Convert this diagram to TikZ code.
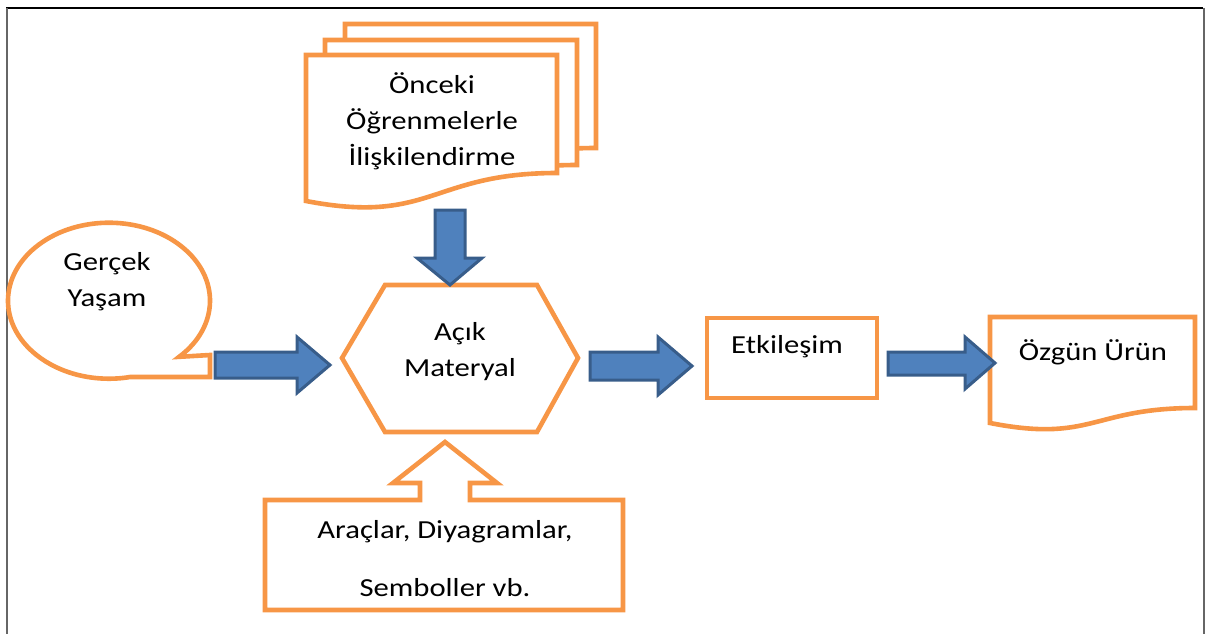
\documentclass[tikz,border=0pt]{standalone}
\usepackage{fontspec}
\setmainfont{Carlito}[FakeStretch=1.18]
\definecolor{orng}{HTML}{F79646}
\definecolor{bfill}{HTML}{4F81BD}
\definecolor{bline}{HTML}{385D8A}
\begin{document}
\begin{tikzpicture}[x=1pt,y=-1pt,
  shp/.style={draw=orng,line width=4.6pt,fill=white},
  barrow/.style={draw=bline,line width=3pt,fill=bfill},
  lbl/.style={align=center,inner sep=0pt,font=\fontsize{26}{36}\selectfont}]
\useasboundingbox (0,0) rectangle (1205,634);
% frame
\draw[black,line width=1.6pt] (6,8) -- (1203,8);
\draw[gray!80!black,line width=2pt] (7,8) -- (7,634);
\draw[gray!80!black,line width=2pt] (1204,8) -- (1204,634);
% stacked documents
\draw[shp] (345,24) -- (596,24) -- (596,148) .. controls (470,148) and (470,198) .. (345,175) -- cycle;
\draw[shp] (325,40) -- (577,40) -- (577,165) .. controls (450,165) and (450,215) .. (325,192) -- cycle;
\draw[shp] (306,55) -- (557,55) -- (557,173) .. controls (431,173) and (431,225) .. (306,201) -- cycle;
\node[lbl] (onceki) at (432,121) {Önceki\\Öğrenmelerle\\İlişkilendirme};
% speech bubble
\draw[shp] (109,300) ++(46:101 and 79) arc[start angle=46,end angle=-282,x radius=101,y radius=78] -- (210,377) -- (210,355) -- cycle;
\node[lbl] (gercek) at (107,282) {Gerçek\\Yaşam};
% hexagon
\draw[shp] (385,285) -- (537,285) -- (578,358) -- (537,432) -- (385,432) -- (342,358) -- cycle;
\node[lbl] (acik) at (460,352) {Açık\\Materyal};
% up-arrow callout
\draw[shp] (265,500) -- (420,500) -- (420,483) -- (393,483) -- (445,442) -- (497,483) -- (470,483) -- (470,500) -- (623,500) -- (623,610) -- (265,610) -- cycle;
\node[lbl] (arac) at (445,559) {Araçlar, Diyagramlar,\\[22pt]Semboller vb.};
% Etkilesim box
\draw[shp] (707,318) rectangle (877,398);
\node[lbl] (etk) at (787,347) {Etkileşim};
% Ozgun Urun document
\draw[shp] (990,317) -- (1195,317) -- (1195,408) .. controls (1092,408) and (1092,443) .. (990,423) -- cycle;
\node[lbl] (ozgun) at (1093,352) {Özgün Ürün};
% blue block arrows
\draw[barrow] (435,210) -- (465,210) -- (465,258) -- (482,258) -- (450,285) -- (417,258) -- (435,258) -- cycle;
\draw[barrow] (215,352) -- (297,352) -- (297,337) -- (330,365) -- (297,393) -- (297,378) -- (215,378) -- cycle;
\draw[barrow] (590,352) -- (658,352) -- (658,337) -- (692,366) -- (658,395) -- (658,380) -- (590,380) -- cycle;
\draw[barrow] (888,352) -- (965,352) -- (965,337) -- (995,363) -- (965,389) -- (965,375) -- (888,375) -- cycle;
\end{tikzpicture}
\end{document}
